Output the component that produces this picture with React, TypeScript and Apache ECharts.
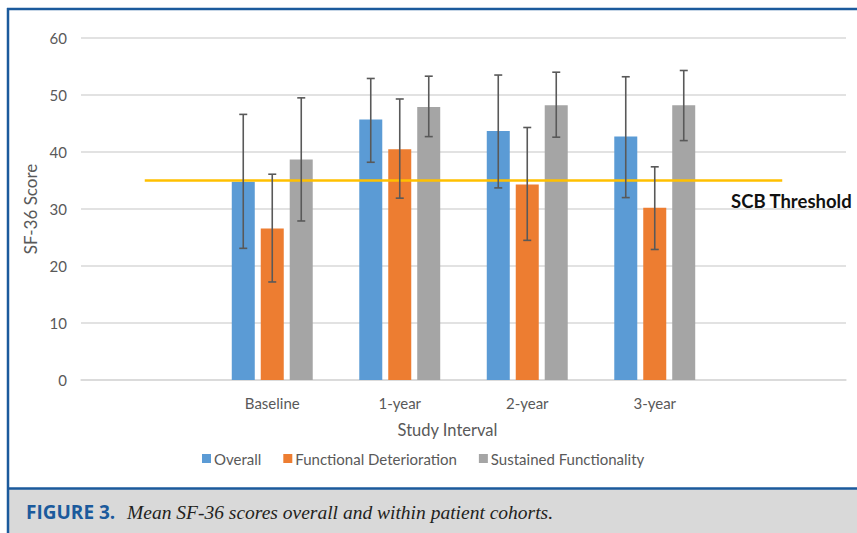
import React, { useEffect, useRef } from "react";
import * as echarts from "echarts";

const categories = ["", "Baseline", "1-year", "2-year", "3-year", ""];
const seriesNames = ["Overall", "Functional Deterioration", "Sustained Functionality"];
const overallMean = [null, 34.8, 45.7, 43.7, 42.7, null];
const overallLow = [null, 23.1, 38.2, 33.7, 32.0, null];
const overallHigh = [null, 46.6, 52.9, 53.5, 53.2, null];
const deteriorationMean = [null, 26.6, 40.5, 34.3, 30.2, null];
const deteriorationLow = [null, 17.2, 31.9, 24.5, 22.9, null];
const deteriorationHigh = [null, 36.1, 49.3, 44.3, 37.4, null];
const sustainedMean = [null, 38.7, 47.9, 48.2, 48.2, null];
const sustainedLow = [null, 27.9, 42.7, 42.6, 42.0, null];
const sustainedHigh = [null, 49.5, 53.3, 54.0, 54.3, null];
const thresholdValue = 35;
const thresholdLabel = "SCB Threshold";
const yTicks = { min: 0, max: 60, interval: 10 };

const colors = ["#5B9BD5", "#ED7D31", "#A5A5A5"];
const FONT = "Lato, 'Open Sans', sans-serif";

function errorSeries(name: string, low: (number | null)[], high: (number | null)[], offset: number) {
  const data: any[] = [];
  low.forEach((l, i) => {
    const h = high[i];
    if (l != null && h != null) data.push([i, l, h]);
  });
  return {
    type: "custom",
    name: name + " error",
    z: 10,
    silent: true,
    encode: { x: 0, y: [1, 2] },
    data,
    renderItem: (params: any, api: any) => {
      const c = api.value(0);
      const lo = api.coord([c, api.value(1)]);
      const hi = api.coord([c, api.value(2)]);
      const x = hi[0] + offset;
      const st = { stroke: "#595959", lineWidth: 1.6 };
      const cap = 4;
      return {
        type: "group",
        children: [
          { type: "line", shape: { x1: x, y1: hi[1], x2: x, y2: lo[1] }, style: st },
          { type: "line", shape: { x1: x - cap, y1: hi[1], x2: x + cap, y2: hi[1] }, style: st },
          { type: "line", shape: { x1: x - cap, y1: lo[1], x2: x + cap, y2: lo[1] }, style: st },
        ],
      };
    },
  };
}

export default function App() {
  const ref = useRef<HTMLDivElement>(null);
  useEffect(() => {
    if (!ref.current) return;
    const chart = echarts.init(ref.current, null, { renderer: "svg" });
    const barBase = {
      type: "bar",
      barWidth: 23,
      barGap: "26%",
      z: 2,
    };
    chart.setOption({
      animation: false,
      backgroundColor: "#ffffff",
      grid: { left: 81, right: 11, top: 38, height: 342 },
      legend: {
        data: seriesNames,
        left: 202,
        top: 451,
        itemWidth: 9,
        itemHeight: 9,
        itemGap: 22,
        icon: "rect",
        padding: 0,
        textStyle: { fontFamily: FONT, fontSize: 15, color: "#595959", padding: [0, 0, 0, -2] },
      },
      xAxis: {
        type: "category",
        data: categories,
        name: "Study Interval",
        nameLocation: "middle",
        nameGap: 41,
        nameTextStyle: { fontFamily: FONT, fontSize: 16.5, color: "#595959", padding: [0, 32, 0, 0] },
        axisLine: { show: true, lineStyle: { color: "#d9d9d9", width: 1.5 } },
        axisTick: { show: false },
        axisLabel: { fontFamily: FONT, fontSize: 15, color: "#595959", margin: 15 },
      },
      yAxis: {
        type: "value",
        min: yTicks.min,
        max: yTicks.max,
        interval: yTicks.interval,
        name: "SF-36 Score",
        nameLocation: "middle",
        nameGap: 41,
        nameTextStyle: { fontFamily: FONT, fontSize: 17, color: "#595959" },
        axisLine: { show: false },
        axisTick: { show: false },
        axisLabel: { fontFamily: FONT, fontSize: 15, color: "#595959", margin: 14 },
        splitLine: { lineStyle: { color: "#d9d9d9", width: 1.5 } },
      },
      series: [
        { ...barBase, name: seriesNames[0], data: overallMean, itemStyle: { color: colors[0] } },
        { ...barBase, name: seriesNames[1], data: deteriorationMean, itemStyle: { color: colors[1] } },
        { ...barBase, name: seriesNames[2], data: sustainedMean, itemStyle: { color: colors[2] } },
        {
          type: "line",
          name: thresholdLabel,
          data: categories.map(() => thresholdValue),
          symbol: "none",
          z: 5,
          lineStyle: { color: "#FFC000", width: 2.5 },
          silent: true,
        },
        errorSeries(seriesNames[0], overallLow, overallHigh, -29),
        errorSeries(seriesNames[1], deteriorationLow, deteriorationHigh, 0),
        errorSeries(seriesNames[2], sustainedLow, sustainedHigh, 29),
      ],
      graphic: [
        { type: "text", left: 731, top: 191, style: { text: thresholdLabel, fontFamily: FONT, fontWeight: "bold", fontSize: 18.5, fill: "#111111" } },
        { type: "rect", shape: { x: 7, y: 489, width: 850, height: 44 }, style: { fill: "#d9d9d9" }, z: -1 },
        { type: "line", shape: { x1: 7, y1: 9, x2: 857, y2: 9 }, style: { stroke: "#1b5a9c", lineWidth: 2.5 } },
        { type: "line", shape: { x1: 7, y1: 488.5, x2: 857, y2: 488.5 }, style: { stroke: "#1b5a9c", lineWidth: 2.5 } },
        { type: "line", shape: { x1: 8, y1: 8, x2: 8, y2: 533 }, style: { stroke: "#1b5a9c", lineWidth: 2.5 } },
        { type: "text", left: 26, top: 502, style: { text: "FIGURE 3.", fontFamily: "'Liberation Sans Narrow', 'Open Sans', sans-serif", fontWeight: "bold", fontSize: 19, fill: "#1b5a9c" } },
        { type: "text", left: 127, top: 502, style: { text: "Mean SF-36 scores overall and within patient cohorts.", fontFamily: "'Liberation Serif', serif", fontStyle: "italic", fontSize: 19.5, fill: "#231f20" } },
      ],
    });
    return () => chart.dispose();
  }, []);
  return (
    <div style={{ position: "absolute", left: 0, top: 0, width: 857, height: 533 }}>
      <div ref={ref} style={{ width: 857, height: 533 }} />
    </div>
  );
}
